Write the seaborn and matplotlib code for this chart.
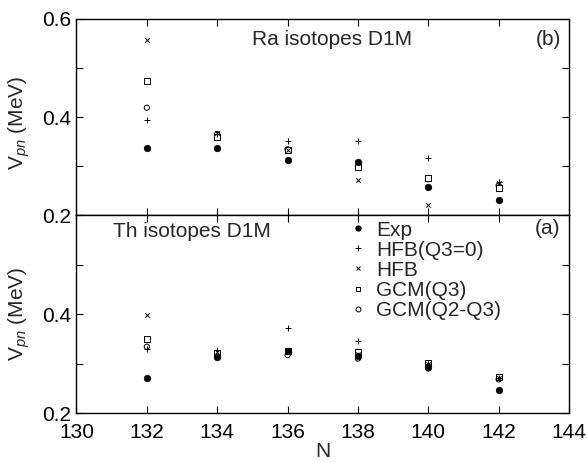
import numpy as np
import pandas as pd
import seaborn as sns
import matplotlib.pyplot as plt
from matplotlib.lines import Line2D

sns.set_style('ticks')
plt.rcParams['font.family'] = ['Liberation Sans', 'DejaVu Sans']
plt.rcParams['mathtext.fontset'] = 'custom'
plt.rcParams['mathtext.rm'] = 'Liberation Sans'
plt.rcParams['mathtext.it'] = 'Liberation Sans:italic'

#Neutron numbers
N = [132, 134, 136, 138, 140, 142]

#Ra isotopes (panel b)
ra_exp = [0.336, 0.336, 0.313, 0.308, 0.258, 0.231]
ra_hfb_q30 = [0.393, 0.366, 0.352, 0.351, 0.317, 0.268]
ra_hfb = [0.557, 0.368, 0.332, 0.272, 0.221, 0.266]
ra_gcm_q3 = [0.473, 0.360, 0.333, 0.297, 0.275, 0.256]
ra_gcm_q2q3 = [0.419, 0.365, 0.334, 0.300, 0.273, 0.260]

#Th isotopes (panel a)
th_exp = [0.270, 0.314, 0.326, 0.316, 0.292, 0.246]
th_hfb_q30 = [0.330, 0.327, 0.372, 0.345, 0.300, 0.270]
th_hfb = [0.399, 0.323, 0.327, 0.320, 0.300, 0.270]
th_gcm_q3 = [0.350, 0.322, 0.325, 0.324, 0.302, 0.273]
th_gcm_q2q3 = [0.334, 0.318, 0.317, 0.310, 0.290, 0.268]

labels = ['Exp', 'HFB(Q3=0)', 'HFB', 'GCM(Q3)', 'GCM(Q2-Q3)']
styles = {
    'Exp': dict(marker='o', s=22, facecolor='black', edgecolor='black', linewidth=0.5),
    'HFB(Q3=0)': dict(marker='+', s=20, color='black', linewidth=0.7),
    'HFB': dict(marker='x', s=10, color='black', linewidth=0.7),
    'GCM(Q3)': dict(marker='s', s=14, facecolor='white', edgecolor='black', linewidth=0.7),
    'GCM(Q2-Q3)': dict(marker='o', s=14, facecolor='none', edgecolor='black', linewidth=0.7),
}

def make_df(vals):
    rows = []
    for lab, v in zip(labels, vals):
        for n, y in zip(N, v):
            rows.append({'N': n, 'V': y, 'series': lab})
    return pd.DataFrame(rows)

ra_df = make_df([ra_exp, ra_hfb_q30, ra_hfb, ra_gcm_q3, ra_gcm_q2q3])
th_df = make_df([th_exp, th_hfb_q30, th_hfb, th_gcm_q3, th_gcm_q2q3])

fs = 15

fig = plt.figure(figsize=(5.87, 4.62), dpi=100)
ax_top = fig.add_axes([0.1303, 0.5346, 0.839, 0.4243])
ax_bot = fig.add_axes([0.1303, 0.106, 0.839, 0.4286])

for ax, df in [(ax_top, ra_df), (ax_bot, th_df)]:
    #draw the open symbols first so filled Exp dots sit on top
    for lab in labels[::-1]:
        sub = df[df['series'] == lab]
        sns.scatterplot(data=sub, x='N', y='V', ax=ax, legend=False, zorder=3, **styles[lab])
    ax.set_xlim(130, 144)
    ax.set_ylim(0.2, 0.6)
    ax.set_xticks(range(130, 145, 2))
    ax.set_yticks([0.2, 0.3, 0.4, 0.5, 0.6])
    ax.tick_params(direction='in', top=True, right=True, length=5, width=0.8,
                   labelsize=fs, colors='black')
    ax.tick_params(axis='x', pad=7)
    for sp in ax.spines.values():
        sp.set_linewidth(1.0)
        sp.set_color('black')
    ax.set_ylabel('V$_{pn}$ (MeV)', fontsize=fs)

ax_top.set_xticklabels([])
ax_top.set_xlabel('')
ax_top.set_yticklabels(['0.2', '', '0.4', '', '0.6'])
ax_top.yaxis.set_label_coords(-0.09, 0.472)
ax_bot.set_yticklabels(['0.2', '', '0.4', '', ''])
ax_bot.yaxis.set_label_coords(-0.09, 0.5)
ax_bot.set_xticklabels([str(x) for x in range(130, 145, 2)])
ax_bot.set_xlabel('N', fontsize=fs, labelpad=0)

ax_top.text(0.518, 0.867, 'Ra isotopes D1M', transform=ax_top.transAxes, ha='center', va='baseline', fontsize=fs)
ax_top.text(0.985, 0.867, '(b)', transform=ax_top.transAxes, ha='right', va='baseline', fontsize=fs)
ax_bot.text(0.0735, 0.89, 'Th isotopes D1M', transform=ax_bot.transAxes, ha='left', va='baseline', fontsize=fs)
ax_bot.text(0.982, 0.904, '(a)', transform=ax_bot.transAxes, ha='right', va='baseline', fontsize=fs)

handles = [
    Line2D([], [], linestyle='', marker='o', markersize=3.5, color='black'),
    Line2D([], [], linestyle='', marker='+', markersize=4, color='black', markeredgewidth=0.7),
    Line2D([], [], linestyle='', marker='x', markersize=3, color='black', markeredgewidth=0.7),
    Line2D([], [], linestyle='', marker='s', markersize=3.5, markerfacecolor='white', markeredgecolor='black', markeredgewidth=0.7),
    Line2D([], [], linestyle='', marker='o', markersize=3.5, markerfacecolor='none', markeredgecolor='black', markeredgewidth=0.7),
]
ax_bot.legend(handles, labels, loc='upper left', bbox_to_anchor=(0.52, 1.045), frameon=False,
              fontsize=fs, handlelength=1.0, handletextpad=0.4, labelspacing=0.05, borderpad=0.2)

plt.savefig('out.png', dpi=100)
